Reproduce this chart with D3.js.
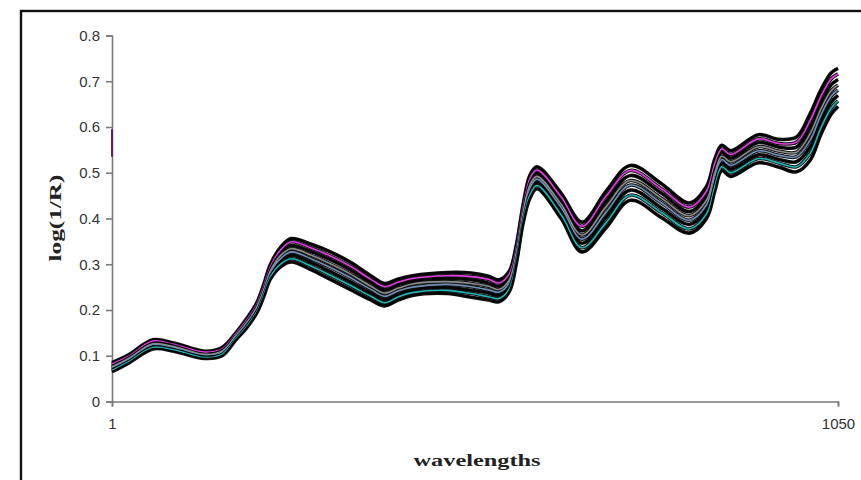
<!DOCTYPE html>
<html>
<head>
<meta charset="utf-8">
<script src="https://cdn.jsdelivr.net/npm/d3@7"></script>
<style>
  body { margin: 0; background: #fff; }
  svg { display: block; }
</style>
</head>
<body>
<div class="chart"></div>
<script>
// spectra, top line first

var wavelengths = [1, 25, 60, 90, 135, 160, 180, 195, 210, 220, 230, 245, 260, 290, 315, 345, 375, 395, 415, 435,
  485, 520, 545, 560, 575, 585, 595, 605, 615, 650, 680, 715, 750, 795, 835, 860, 872, 882, 895, 935,
  965, 990, 1010, 1025, 1040, 1050];

var s1 = [.085,.102,.135,.128,.110,.118,.150,.180,.215,.255,.300,.338,.356,.343,.328,.305,.275,.258,.268,.275,.282,.281,.274,.266,.285,.340,.430,.495,.513,.455,.392,.460,.516,.476,.434,.470,.530,.560,.548,.583,.573,.578,.630,.680,.718,.728];
var s2 = [.082,.099,.132,.125,.108,.115,.148,.177,.212,.251,.295,.332,.349,.335,.319,.296,.267,.251,.261,.269,.275,.273,.267,.259,.279,.334,.424,.488,.506,.447,.383,.449,.505,.465,.425,.460,.520,.552,.540,.574,.564,.567,.615,.666,.705,.716];
var s3 = [.079,.097,.129,.123,.105,.113,.146,.174,.209,.247,.291,.326,.341,.327,.311,.288,.260,.244,.255,.263,.269,.266,.259,.252,.272,.329,.419,.481,.499,.439,.373,.437,.494,.455,.415,.450,.510,.544,.532,.566,.556,.556,.601,.652,.692,.704];
var s4 = [.076,.094,.126,.120,.103,.110,.144,.171,.206,.243,.286,.320,.334,.319,.302,.279,.252,.237,.248,.257,.262,.258,.252,.245,.266,.323,.413,.474,.492,.431,.364,.426,.483,.444,.406,.440,.500,.536,.524,.557,.547,.545,.586,.638,.679,.692];
var s5 = [.074,.092,.124,.118,.101,.108,.141,.169,.202,.240,.282,.313,.327,.311,.294,.271,.245,.230,.242,.250,.256,.251,.244,.239,.259,.317,.407,.466,.486,.424,.355,.414,.473,.434,.396,.430,.490,.529,.516,.548,.538,.535,.572,.625,.667,.681];
var s6 = [.071,.089,.121,.115,.099,.105,.139,.166,.199,.236,.277,.307,.320,.303,.285,.262,.237,.223,.235,.244,.249,.243,.237,.232,.253,.311,.401,.459,.479,.416,.346,.403,.462,.423,.387,.420,.480,.521,.508,.539,.529,.524,.557,.611,.654,.669];
var s7 = [.068,.087,.118,.113,.096,.103,.137,.163,.196,.232,.273,.301,.312,.295,.277,.254,.230,.216,.229,.238,.243,.236,.229,.225,.246,.306,.396,.452,.472,.408,.336,.391,.451,.413,.377,.410,.470,.513,.500,.531,.521,.513,.543,.597,.641,.657];
var s8 = [.065,.084,.115,.110,.094,.100,.135,.160,.193,.228,.268,.295,.305,.287,.268,.245,.222,.209,.222,.232,.236,.228,.222,.218,.240,.300,.390,.445,.465,.400,.327,.380,.440,.402,.368,.400,.460,.505,.492,.522,.512,.502,.528,.583,.628,.645];

var seriesList = [s1, s2, s3, s4, s5, s6, s7, s8];
var seriesColors = ['#000', '#e23de2', '#000', '#8c8c8c', '#6f8fb8', '#000', '#1fb5b5', '#000'];

// stray bit of a spectrum sitting on the y axis near 0.55-0.6
var strayMark = [0.595, 0.535];

var yTicks = [0, 0.1, 0.2, 0.3, 0.4, 0.5, 0.6, 0.7, 0.8];
var xTicks = [1, 1050];

// SETUP

var width = 861, height = 480;

var svg = d3.select('.chart')
  .append('svg')
  .attr('width', width)
  .attr('height', height);

// outer frame, runs off the right and bottom of the picture
svg.append('rect')
  .attr('x', 21).attr('y', 11)
  .attr('width', 900).attr('height', 500)
  .attr('fill', 'none')
  .attr('stroke', '#111')
  .attr('stroke-width', 2.4);

var x = d3.scaleLinear().domain([1, 1050]).range([112, 838]);
var y = d3.scaleLinear().domain([0, 0.8]).range([401.5, 35.5]);

// AXES

svg.append('g')
  .attr('transform', 'translate(112,0)')
  .call(d3.axisLeft(y).tickValues(yTicks).tickSize(6).tickPadding(6)
    .tickFormat(function(d){ return d === 0 ? '0' : d3.format('.1f')(d); }));

svg.append('g')
  .attr('transform', 'translate(0,401.5)')
  .call(d3.axisBottom(x).tickValues(xTicks).tickSize(5).tickPadding(12)
    .tickFormat(d3.format('d')));

svg.selectAll('.domain, .tick line')
  .attr('stroke', '#7a7a7a')
  .attr('stroke-width', 1.6);

svg.selectAll('.tick text')
  .attr('fill', '#333')
  .style('font-family', 'Liberation Sans, Arial, sans-serif')
  .style('font-size', '15px');

// LINES

var line = d3.line()
  .x(function(d, i){ return x(wavelengths[i]); })
  .y(function(d){ return y(d); })
  .curve(d3.curveCatmullRom.alpha(0.5));

var lines = svg.append('g');

// dark halo under every spectrum, gives the blurred black look
lines.selectAll('.halo')
  .data(seriesList)
  .enter()
  .append('path')
  .attr('class', 'halo')
  .attr('d', line)
  .attr('fill', 'none')
  .attr('stroke', '#111')
  .attr('stroke-width', 3.6);

lines.selectAll('.spectrum')
  .data(seriesList)
  .enter()
  .append('path')
  .attr('class', 'spectrum')
  .attr('d', line)
  .attr('fill', 'none')
  .attr('stroke', function(d, i){ return seriesColors[i]; })
  .attr('stroke-width', 1.6);

lines.append('line')
  .attr('x1', x(1)).attr('x2', x(1))
  .attr('y1', y(strayMark[0])).attr('y2', y(strayMark[1]))
  .attr('stroke', '#6a1a6a')
  .attr('stroke-width', 2);

// LABELS

svg.append('text')
  .attr('x', 477).attr('y', 466)
  .attr('text-anchor', 'middle')
  .attr('textLength', 127)
  .attr('lengthAdjust', 'spacingAndGlyphs')
  .style('font-family', 'Liberation Serif, Times New Roman, serif')
  .style('font-weight', 'bold')
  .style('font-size', '17px')
  .attr('fill', '#222')
  .text('wavelengths');

svg.append('text')
  .attr('transform', 'translate(61,218) rotate(-90)')
  .attr('text-anchor', 'middle')
  .attr('textLength', 87)
  .attr('lengthAdjust', 'spacingAndGlyphs')
  .style('font-family', 'Liberation Serif, Times New Roman, serif')
  .style('font-weight', 'bold')
  .style('font-size', '17px')
  .attr('fill', '#222')
  .text('log(1/R)');
</script>
</body>
</html>
